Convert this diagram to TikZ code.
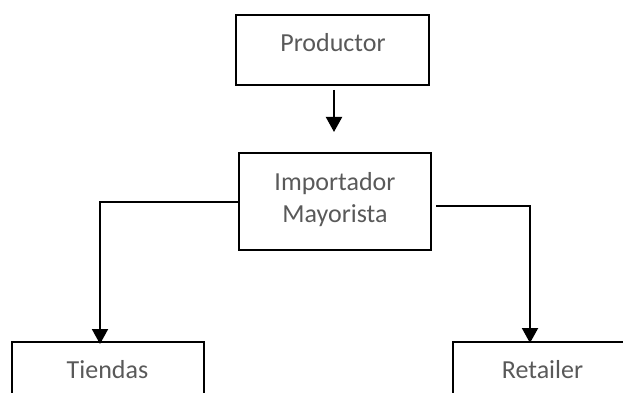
\documentclass[tikz,border=0pt]{standalone}
\usepackage{fontspec}
\setmainfont{Carlito}
\usetikzlibrary{arrows.meta}
\definecolor{txtgray}{RGB}{89,89,89}
\tikzset{
  box/.style={draw=black, line width=2pt, rectangle, inner sep=0pt},
  txt/.style={text=txtgray, font=\fontsize{26}{32}\selectfont, inner sep=0pt, anchor=base},
  conn/.style={draw=black, line width=2pt, -{Triangle[width=16pt,length=15pt]}}
}
\begin{document}
\begin{tikzpicture}[x=1pt,y=-1pt]
\path[use as bounding box] (0,0) rectangle (623,393);
\clip (0,0) rectangle (623,393);
\node[box, minimum width=193pt, minimum height=70pt] (prod) at (332.5,50) {};
\node[txt] (prodt) at (333,52) {Productor};
\node[box, minimum width=192pt, minimum height=97pt] (imp) at (335,201.5) {};
\node[txt] (impt1) at (335,190) {Importador};
\node[txt] (impt2) at (335,222) {Mayorista};
\node[box, minimum width=192pt, minimum height=100pt] (tie) at (108,392) {};
\node[txt] (tiet) at (107.5,378) {Tiendas};
\node[box, minimum width=192pt, minimum height=100pt] (ret) at (549,392) {};
\node[txt] (rett) at (542.5,378) {Retailer};
\coordinate (a1) at (334,90);
\coordinate (a2) at (334,132);
\draw[conn] (a1) -- (a2);
\draw[conn] (imp.west) -| ([xshift=-8pt,yshift=-3pt]tie.north);
\coordinate (r0) at ([xshift=4pt,yshift=-4.5pt]imp.east);
\draw[conn] (r0) -| ([xshift=-19pt,yshift=-2pt]ret.north);
\end{tikzpicture}
\end{document}
